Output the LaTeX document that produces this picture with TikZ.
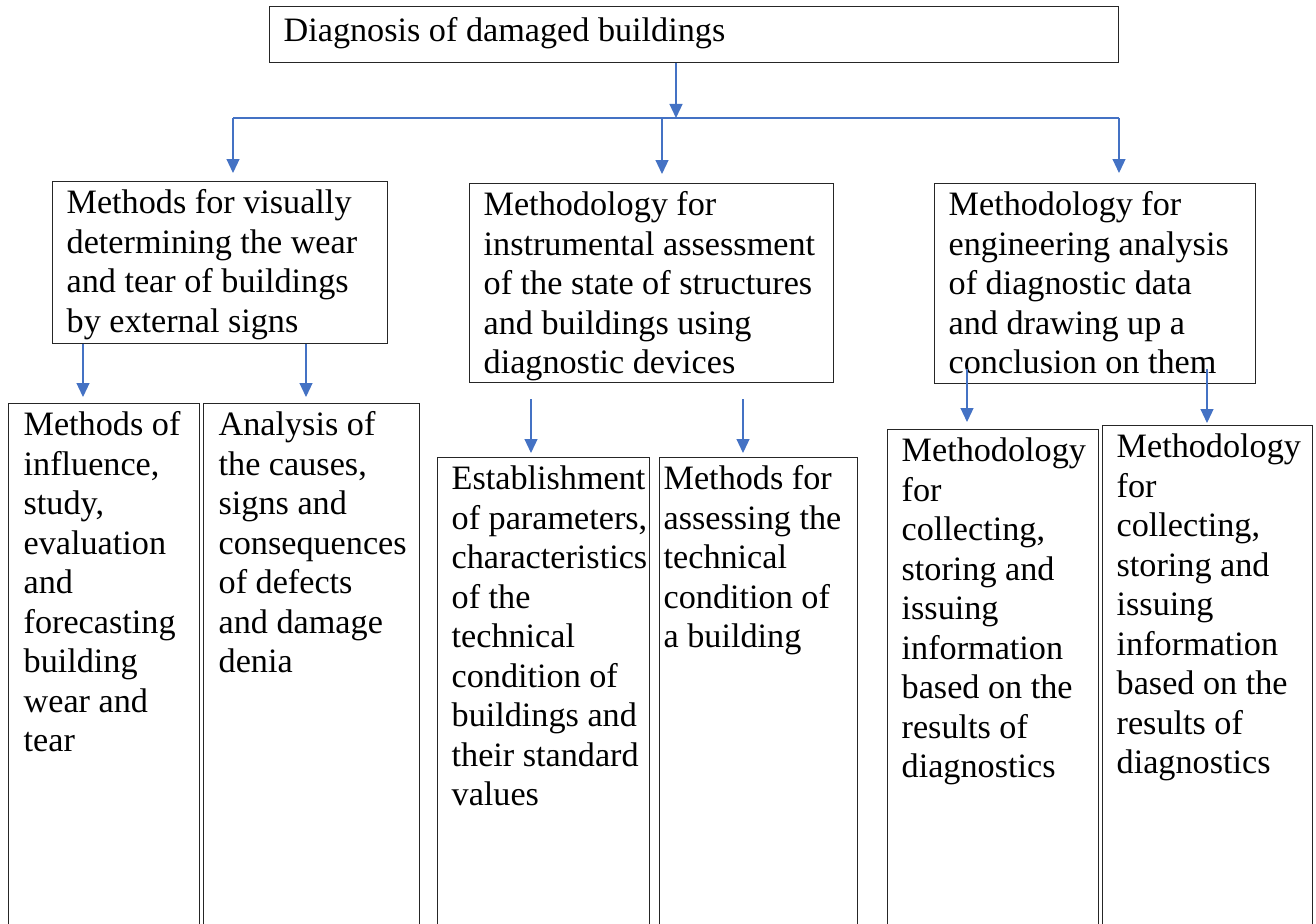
\documentclass[tikz,border=0pt]{standalone}
\usepackage{fontspec}
\setmainfont{Liberation Serif}
\usetikzlibrary{arrows.meta}
\definecolor{linkblue}{HTML}{4472C4}
\definecolor{boxline}{HTML}{262626}
\tikzset{
  box/.style={draw=boxline, line width=1.3pt, inner xsep=0pt, inner ysep=4.4pt, anchor=north west,
    font=\fontsize{34.2}{39.5}\selectfont},
  conn/.style={draw=linkblue, line width=1.2pt},
  arr/.style={conn, -{Triangle[width=13pt,length=14pt]}}
}
% #1 name, #2 left, #3 top, #4 width, #5 height, #6 inset, #7 text
\newcommand\dbox[7]{%
  \node[box] (#1) at (#2,#3)
    {\hspace*{#6pt}\parbox[t][\dimexpr #5pt-8.8pt\relax][t]{\dimexpr #4pt-#6pt\relax}{\raggedright\hyphenpenalty=10000\exhyphenpenalty=10000\strut #7}};}
\begin{document}
\begin{tikzpicture}[x=1pt,y=-1pt]
\useasboundingbox (0,0) rectangle (1316,923);
\fill[white] (0,0) rectangle (1316,923);
\clip (0,0) rectangle (1316,923);

\node[box, inner ysep=7.4pt] (top) at (269,6)
  {\hspace*{14pt}\parbox[t][\dimexpr 56pt-14.8pt\relax][t]{\dimexpr 849pt-14pt\relax}{\raggedright\strut Diagnosis of damaged buildings}};

\dbox{m1}{52}{181}{335}{162}{14}{Methods~for~visually\\determining~the~wear\\and~tear~of~buildings\\by~external~signs}
\dbox{m2}{469}{183}{364}{199}{14}{Methodology~for\\instrumental~assessment\\of~the~state~of~structures\\and~buildings~using\\diagnostic~devices}
\dbox{m3}{934}{183}{321}{200}{14}{Methodology~for\\engineering~analysis\\of~diagnostic~data\\and~drawing~up~a\\conclusion~on~them}

\dbox{b1}{8}{403}{191}{540}{15}{Methods~of\\influence,\\study,\\evaluation\\and\\forecasting\\building\\wear~and\\tear}
\dbox{b2}{203}{403}{216}{540}{15}{Analysis~of\\the~causes,\\signs~and\\consequences\\of~defects\\and~damage\\denia}
\dbox{b3}{437}{457}{212}{490}{14}{Establishment\\of~parameters,\\characteristics\\of~the\\technical\\condition~of\\buildings~and\\their~standard\\values}
\dbox{b4}{659}{457}{198}{490}{4}{Methods~for\\assessing~the\\technical\\condition~of\\a~building}
\dbox{b5}{887}{429}{211}{520}{14}{Methodology\\for\\collecting,\\storing~and\\issuing\\information\\based~on~the\\results~of\\diagnostics}
\dbox{b6}{1102}{425}{210}{520}{14}{Methodology\\for\\collecting,\\storing~and\\issuing\\information\\based~on~the\\results~of\\diagnostics}

\coordinate (busT) at (676,118);
\coordinate (busL) at (233,118);
\coordinate (busM) at (662,118);
\coordinate (busR) at (1119,118);

\draw[arr] (top.south -| busT) -- (busT);
\draw[conn] (busL) -- (busR);
\draw[arr, shorten >=8pt] (busL) -- (m1.north -| busL);
\draw[arr, shorten >=9pt] (busM) -- (m2.north -| busM);
\draw[arr, shorten >=10pt] (busR) -- (m3.north -| busR);

\draw[arr, shorten >=6pt] (m1.south -| 83,0) -- (b1.north -| 83,0);
\draw[arr, shorten >=6pt] (m1.south -| 306,0) -- (b2.north -| 306,0);

\draw[arr, shorten <=16pt, shorten >=4pt] (m2.south -| 531,0) -- (b3.north -| 531,0);
\draw[arr, shorten <=16pt, shorten >=4pt] (m2.south -| 743,0) -- (b4.north -| 743,0);

\draw[arr, shorten <=-15pt, shorten >=7pt] (m3.south -| 967,0) -- (b5.north -| 967,0);
\draw[arr, shorten <=-15pt, shorten >=2pt] (m3.south -| 1207,0) -- (b6.north -| 1207,0);
\end{tikzpicture}
\end{document}
